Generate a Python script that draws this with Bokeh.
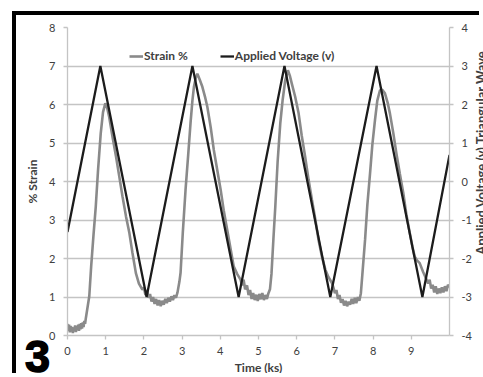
from bokeh.plotting import figure
from bokeh.layouts import column
from bokeh.models import (Range1d, LinearAxis, FixedTicker, Legend, LegendItem,
                          PrintfTickFormatter, Div)
from bokeh.embed import file_html
from bokeh.resources import INLINE

# ---------------- data ----------------
volt_t = [0.00, 0.86, 2.07, 3.27, 4.48, 5.68, 6.88, 8.09, 9.29, 10.00]
volt_v = [-1.31, 3.0, -3.0, 3.0, -3.0, 3.0, -3.0, 3.0, -3.0, 0.69]

strain_t = [
    0.00, 0.02, 0.04, 0.06, 0.08, 0.10, 0.12, 0.14, 0.16, 0.18, 0.20, 0.22, 0.24,
    0.26, 0.28, 0.30, 0.32, 0.34, 0.36, 0.38, 0.40, 0.42, 0.44, 0.46, 0.48,
    0.52, 0.57, 0.62, 0.68, 0.74, 0.80, 0.87, 0.93, 0.99, 1.03, 1.09, 1.18, 1.27,
    1.36, 1.44, 1.53, 1.62, 1.70, 1.79, 1.87, 1.96,
    2.00, 2.04, 2.08, 2.12, 2.16, 2.20, 2.24, 2.28, 2.32, 2.36, 2.40, 2.44, 2.48,
    2.52, 2.56, 2.60, 2.64, 2.68, 2.72, 2.76, 2.80, 2.84, 2.88,
    2.93, 2.96, 3.02, 3.09, 3.16, 3.22, 3.27, 3.31, 3.36, 3.40, 3.46, 3.53, 3.60,
    3.66, 3.75, 3.83, 3.92, 4.01, 4.09, 4.18, 4.27, 4.35, 4.44, 4.53,
    4.57, 4.61, 4.65, 4.70, 4.74, 4.78, 4.82, 4.86, 4.90, 4.94, 4.98, 5.02, 5.06,
    5.10, 5.14, 5.18, 5.22, 5.26, 5.30,
    5.34, 5.39, 5.44, 5.50, 5.57, 5.63, 5.70, 5.77, 5.82, 5.87, 5.96, 6.05, 6.13,
    6.22, 6.31, 6.40, 6.49, 6.57, 6.66, 6.75, 6.83, 6.92,
    6.96, 7.00, 7.04, 7.08, 7.12, 7.16, 7.20, 7.24, 7.28, 7.32, 7.36, 7.40, 7.44,
    7.48, 7.52, 7.56, 7.60, 7.64, 7.68,
    7.72, 7.79, 7.85, 7.92, 7.98, 8.05, 8.11, 8.18, 8.24, 8.31, 8.38, 8.44, 8.53,
    8.61, 8.70, 8.79, 8.87, 8.96, 9.03, 9.09, 9.15, 9.22, 9.31, 9.40,
    9.44, 9.48, 9.52, 9.56, 9.60, 9.64, 9.68, 9.72, 9.76, 9.80, 9.84, 9.88, 9.92,
    9.96, 10.00,
]
strain_s = [
    0.30, 0.12, 0.28, 0.08, 0.25, 0.10, 0.22, 0.06, 0.20, 0.12, 0.26, 0.09, 0.24,
    0.14, 0.28, 0.12, 0.30, 0.16, 0.32, 0.18, 0.34, 0.22, 0.38, 0.30, 0.45,
    0.70, 1.02, 1.80, 2.60, 3.35, 4.30, 5.25, 5.80, 6.03, 5.95, 5.68, 5.15, 4.65,
    4.10, 3.61, 3.10, 2.66, 2.15, 1.62, 1.35, 1.19,
    1.25, 1.05, 1.18, 0.98, 1.08, 0.88, 1.00, 0.82, 0.95, 0.78, 0.92, 0.76, 0.90,
    0.80, 0.95, 0.84, 0.98, 0.88, 1.02, 0.92, 1.05, 0.98, 1.12,
    1.40, 1.63, 2.70, 3.78, 4.70, 5.51, 6.10, 6.46, 6.70, 6.80, 6.65, 6.46, 6.20,
    5.94, 5.40, 4.82, 4.30, 3.78, 3.25, 2.75, 2.25, 1.80, 1.60, 1.45,
    1.30, 1.45, 1.20, 1.30, 1.05, 1.18, 0.95, 1.10, 0.92, 1.06, 0.90, 1.08, 0.94,
    1.10, 0.92, 1.05, 0.95, 1.10, 1.20,
    1.60, 2.50, 3.35, 4.50, 5.51, 6.10, 6.63, 6.89, 6.75, 6.55, 6.20, 5.77, 5.20,
    4.65, 4.05, 3.52, 3.00, 2.49, 2.05, 1.71, 1.52, 1.37,
    1.25, 1.10, 1.18, 0.95, 1.05, 0.85, 0.95, 0.78, 0.90, 0.76, 0.88, 0.80, 0.95,
    0.82, 0.98, 0.84, 1.00, 0.90, 1.10,
    1.60, 2.49, 3.40, 4.21, 4.95, 5.60, 6.10, 6.37, 6.38, 6.29, 6.05, 5.77, 5.25,
    4.73, 4.20, 3.70, 3.15, 2.66, 2.30, 2.05, 1.95, 1.88, 1.65, 1.45,
    1.35, 1.45, 1.22, 1.32, 1.12, 1.28, 1.08, 1.22, 1.10, 1.25, 1.12, 1.28, 1.15,
    1.32, 1.25,
]

x_ticks = [0, 1, 2, 3, 4, 5, 6, 7, 8, 9]
y_ticks = [0, 1, 2, 3, 4, 5, 6, 7, 8]
v_ticks = [-4, -3, -2, -1, 0, 1, 2, 3, 4]

# ---------------- styling ----------------
FONT = "Lato"
TXT = "#404040"
GRID = "#c4c4c4"

p = figure(width=467, height=362, output_backend="svg", toolbar_location=None,
           x_range=Range1d(0, 10), y_range=Range1d(0, 8),
           min_border_left=51, min_border_right=34, min_border_top=12,
           min_border_bottom=41)
p.styles = {"margin-left": "12px", "margin-top": "11px",
            "border-top": "4px solid black", "border-left": "4px solid black"}
p.outline_line_color = None
p.background_fill_color = "white"
p.border_fill_color = "white"
p.extra_y_ranges = {"v": Range1d(-4, 4)}

p.xgrid.grid_line_color = None
p.ygrid.grid_line_color = GRID
p.ygrid.grid_line_width = 1.3
p.ygrid.ticker = FixedTicker(ticks=y_ticks)

def style_axis(ax):
    ax.axis_line_color = GRID
    ax.axis_line_width = 1.3
    ax.major_tick_line_color = GRID
    ax.major_tick_line_width = 1.3
    ax.major_tick_out = 4
    ax.major_tick_in = 0
    ax.minor_tick_line_color = None
    ax.major_label_text_font = FONT
    ax.major_label_text_font_size = "11px"
    ax.major_label_text_color = TXT
    ax.axis_label_text_font = FONT
    ax.axis_label_text_font_size = "12px"
    ax.axis_label_text_font_style = "bold"
    ax.axis_label_text_color = TXT

xa = p.xaxis[0]
style_axis(xa)
xa.ticker = FixedTicker(ticks=x_ticks)
xa.major_label_standoff = 7
xa.axis_label = "Time (ks)"
xa.axis_label_standoff = 2

ya = p.yaxis[0]
style_axis(ya)
ya.ticker = FixedTicker(ticks=y_ticks)
ya.major_label_standoff = 8
ya.axis_label = "% Strain"
ya.axis_label_standoff = 6

ra = LinearAxis(y_range_name="v", ticker=FixedTicker(ticks=v_ticks),
                formatter=PrintfTickFormatter(format="%d"))
style_axis(ra)
ra.major_label_standoff = 8
p.add_layout(ra, "right")

r_strain = p.line(strain_t, strain_s, line_color="#8a8a8a", line_width=2.6)
r_volt = p.line(volt_t, volt_v, y_range_name="v", line_color="#1c1c1c",
                line_width=2.3)

legend = Legend(items=[LegendItem(label="Strain %", renderers=[r_strain]),
                       LegendItem(label="Applied Voltage (v)", renderers=[r_volt])],
                orientation="horizontal", location=(62, 272),
                background_fill_alpha=0, border_line_color=None,
                padding=0, margin=0, spacing=32, glyph_width=14,
                glyph_height=14, label_standoff=1,
                label_text_font=FONT, label_text_font_size="12px",
                label_text_font_style="bold", label_text_color=TXT,
                label_height=14)
p.add_layout(legend, "center")

# right-hand axis title, reading bottom to top at the page edge
right_title = Div(text="Applied Voltage (v) Triangular Wave", width=330, height=16,
                  styles={"position": "absolute", "left": "310px", "top": "140px",
                          "transform": "rotate(-90deg)",
                          "transform-origin": "center center",
                          "white-space": "nowrap", "text-align": "center",
                          "font-family": "Lato", "font-weight": "bold",
                          "font-size": "13px", "color": TXT})

# panel letter
letter = Div(text=("<div style=\"margin:0;padding:0;line-height:45px;"
                   "font-family:'Liberation Sans';font-weight:bold;font-size:45px;"
                   "color:black;-webkit-text-stroke:1.5px black\">3</div>"),
             width=40, height=46,
             styles={"position": "absolute", "left": "20px", "top": "329px"})

layout = column(p, right_title, letter)
open("out.html", "w").write(file_html(layout, INLINE))
